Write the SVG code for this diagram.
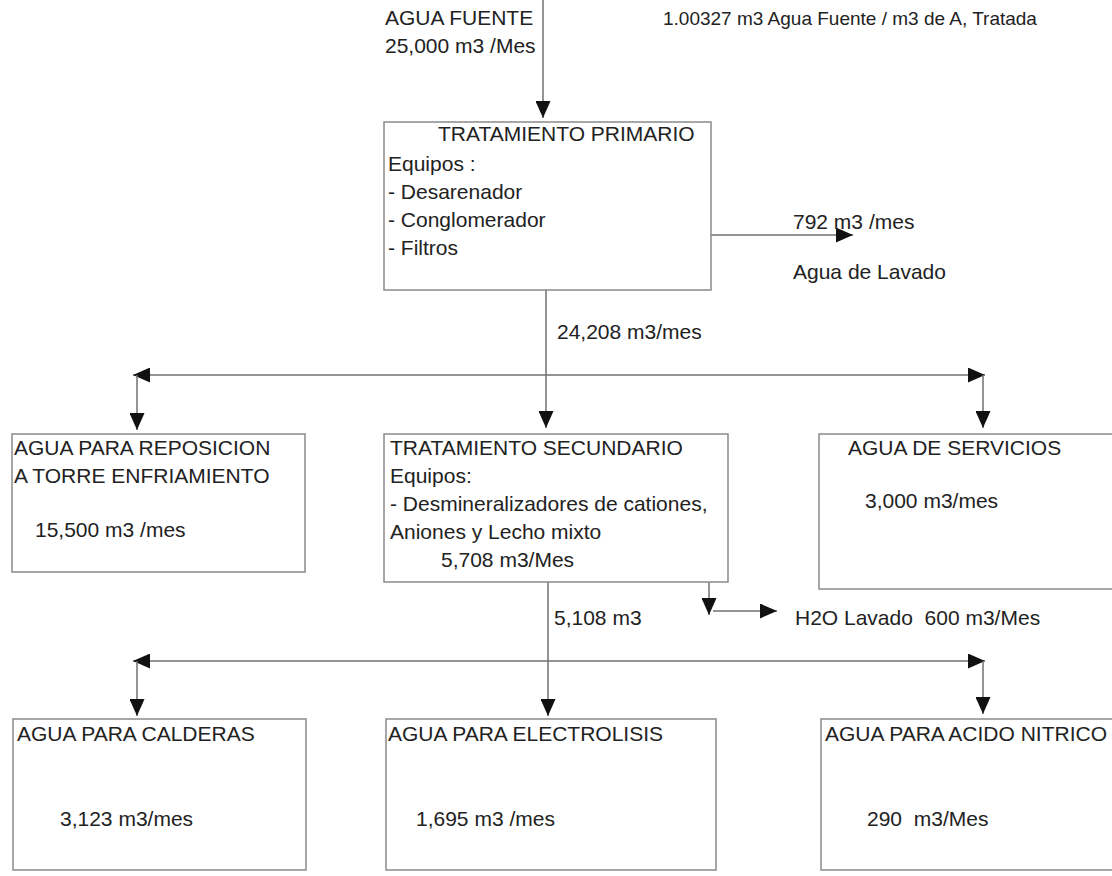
<svg xmlns="http://www.w3.org/2000/svg" width="1112" height="876" viewBox="0 0 1112 876">
<style>
text{font-family:"Liberation Sans",Arial,sans-serif;font-size:21px;fill:#222;white-space:pre}
.s{font-size:19px}
.box{fill:#fff;stroke:#8a8a8a;stroke-width:1.5}
.ln{fill:none;stroke:#707070;stroke-width:1.5}
</style>
<defs>
<marker id="ah" markerUnits="userSpaceOnUse" markerWidth="17" markerHeight="15" refX="17" refY="7.5" orient="auto">
<path d="M0,0 L17,7.5 L0,15 z" fill="#111"/>
</marker>
</defs>
<rect width="1112" height="876" fill="#fff"/>
<g id="connectors">
<line class="ln" x1="543" y1="0" x2="543" y2="118" marker-end="url(#ah)"/>
<line class="ln" x1="711" y1="235" x2="853" y2="235" marker-end="url(#ah)"/>
<line class="ln" x1="546" y1="290" x2="546" y2="428" marker-end="url(#ah)"/>
<line class="ln" x1="546" y1="375" x2="133" y2="375" marker-end="url(#ah)"/>
<line class="ln" x1="546" y1="375" x2="985" y2="375" marker-end="url(#ah)"/>
<line class="ln" x1="137" y1="375" x2="137" y2="430" marker-end="url(#ah)"/>
<line class="ln" x1="983" y1="375" x2="983" y2="428" marker-end="url(#ah)"/>
<line class="ln" x1="548" y1="582" x2="548" y2="716" marker-end="url(#ah)"/>
<line class="ln" x1="709" y1="582" x2="709" y2="615" marker-end="url(#ah)"/>
<line class="ln" x1="713" y1="611" x2="777" y2="611" marker-end="url(#ah)"/>
<line class="ln" x1="548" y1="661" x2="133" y2="661" marker-end="url(#ah)"/>
<line class="ln" x1="548" y1="661" x2="985" y2="661" marker-end="url(#ah)"/>
<line class="ln" x1="137" y1="661" x2="137" y2="716" marker-end="url(#ah)"/>
<line class="ln" x1="983" y1="661" x2="983" y2="714" marker-end="url(#ah)"/>
</g>
<g id="labels">
<text x="385" y="25">AGUA FUENTE</text>
<text x="385" y="53">25,000 m3 /Mes</text>
<text class="s" x="663" y="25">1.00327 m3 Agua Fuente / m3 de A, Tratada</text>
<text x="793" y="229">792 m3 /mes</text>
<text x="793" y="279">Agua de Lavado</text>
<text x="557" y="339">24,208 m3/mes</text>
<text x="554" y="625">5,108 m3</text>
<text x="795" y="625">H2O Lavado  600 m3/Mes</text>
</g>
<g id="primario">
<rect class="box" x="384" y="122" width="327" height="168"/>
<text x="438" y="141">TRATAMIENTO PRIMARIO</text>
<text x="388" y="171">Equipos :</text>
<text x="388" y="199">- Desarenador</text>
<text x="388" y="227">- Conglomerador</text>
<text x="388" y="255">- Filtros</text>
</g>
<g id="reposicion">
<rect class="box" x="12" y="434" width="293" height="138"/>
<text x="14" y="455">AGUA PARA REPOSICION</text>
<text x="14" y="483">A TORRE ENFRIAMIENTO</text>
<text x="35" y="537">15,500 m3 /mes</text>
</g>
<g id="secundario">
<rect class="box" x="384" y="434" width="344" height="148"/>
<text x="390" y="455">TRATAMIENTO SECUNDARIO</text>
<text x="390" y="483">Equipos:</text>
<text x="390" y="511">- Desmineralizadores de cationes,</text>
<text x="390" y="539">Aniones y Lecho mixto</text>
<text x="441" y="567">5,708 m3/Mes</text>
</g>
<g id="servicios">
<rect class="box" x="819" y="434" width="300" height="155"/>
<text x="848" y="455">AGUA DE SERVICIOS</text>
<text x="865" y="508">3,000 m3/mes</text>
</g>
<g id="calderas">
<rect class="box" x="13" y="719" width="293" height="151"/>
<text x="17" y="741">AGUA PARA CALDERAS</text>
<text x="60" y="826">3,123 m3/mes</text>
</g>
<g id="electrolisis">
<rect class="box" x="386" y="719" width="330" height="151"/>
<text x="388" y="741">AGUA PARA ELECTROLISIS</text>
<text x="416" y="826">1,695 m3 /mes</text>
</g>
<g id="nitrico">
<rect class="box" x="821" y="719" width="300" height="151"/>
<text x="825" y="741">AGUA PARA ACIDO NITRICO</text>
<text x="867" y="826">290  m3/Mes</text>
</g>
</svg>
